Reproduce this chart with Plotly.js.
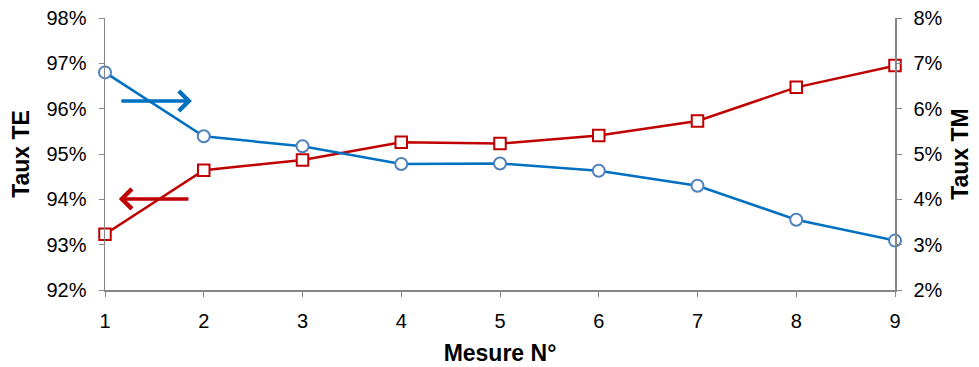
<!DOCTYPE html>
<html>
<head>
<meta charset="utf-8">
<script src="https://cdn.plot.ly/plotly-3.0.1.min.js"></script>
<style>html,body{margin:0;padding:0;background:#fff;}#chart{width:979px;height:367px;}</style>
</head>
<body>
<div id="chart"></div>
<script>
const mesures = [1, 2, 3, 4, 5, 6, 7, 8, 9];
const tauxTE = [0.9323, 0.9464, 0.9487, 0.9526, 0.9523, 0.9541, 0.9573, 0.9647, 0.9695];
const tauxTM = [0.0680, 0.0539, 0.0517, 0.0478, 0.0479, 0.0463, 0.0430, 0.0355, 0.0309];
const leftTicks = [0.92, 0.93, 0.94, 0.95, 0.96, 0.97, 0.98];
const rightTicks = [0.02, 0.03, 0.04, 0.05, 0.06, 0.07, 0.08];

const font = "Liberation Sans, Arial, sans-serif";
const axisColor = "#868686";
const tickSize = 20;

const traceTM = {
  x: mesures, y: tauxTM, yaxis: "y2", type: "scatter", mode: "lines+markers",
  line: {color: "#0070C0", width: 2.5},
  marker: {symbol: "circle", size: 12, color: "#ffffff", line: {color: "#4F81BD", width: 2}},
  cliponaxis: false, name: "Taux TM"
};
const traceTE = {
  x: mesures, y: tauxTE, yaxis: "y", type: "scatter", mode: "lines+markers",
  line: {color: "#C00000", width: 2.5},
  marker: {symbol: "square", size: 11.5, color: "#ffffff", line: {color: "#C00000", width: 2}},
  cliponaxis: false, name: "Taux TE"
};

const layout = {
  width: 979, height: 367,
  margin: {l: 105, r: 84, t: 18, b: 77},
  paper_bgcolor: "#ffffff", plot_bgcolor: "#ffffff",
  showlegend: false,
  font: {family: font, size: tickSize, color: "#000"},
  xaxis: {
    range: [1, 9], tickvals: mesures, ticktext: mesures.map(String),
    showgrid: false, zeroline: false, showline: true, linecolor: axisColor, linewidth: 1.5,
    ticks: "outside", ticklen: 5, tickcolor: axisColor, tickwidth: 1, ticklabelstandoff: 7,
    tickfont: {family: font, size: tickSize, color: "#000"},
    title: {text: "<b>Mesure N°</b>", font: {family: font, size: 23, color: "#000"}, standoff: 14}
  },
  yaxis: {
    range: [0.92, 0.98], tickvals: leftTicks, tickformat: ".0%",
    showgrid: false, zeroline: false, showline: true, linecolor: axisColor, linewidth: 1.5,
    ticks: "outside", ticklen: 5, tickcolor: axisColor, tickwidth: 1, ticklabelstandoff: 8,
    tickfont: {family: font, size: tickSize, color: "#000"},
    title: {text: "<b>Taux TE</b>", font: {family: font, size: 23, color: "#000"}, standoff: 10}
  },
  yaxis2: {
    range: [0.02, 0.08], tickvals: rightTicks, tickformat: ".0%",
    overlaying: "y", side: "right",
    showgrid: false, zeroline: false, showline: true, linecolor: axisColor, linewidth: 1.5,
    ticks: "outside", ticklen: 5, tickcolor: axisColor, tickwidth: 1, ticklabelstandoff: 8,
    tickfont: {family: font, size: tickSize, color: "#000"},
    title: {text: "<b>Taux TM</b>", font: {family: font, size: 23, color: "#000"}, standoff: 10}
  },
  annotations: [
    {x: 1.88, y: 0.0617, xref: "x", yref: "y2", ax: 1.15, ay: 0.0617, axref: "x", ayref: "y2",
     showarrow: true, arrowhead: 4, arrowsize: 1.1, arrowwidth: 3.5, arrowcolor: "#0070C0", text: ""},
    {x: 1.14, y: 0.9401, xref: "x", yref: "y", ax: 1.86, ay: 0.9401, axref: "x", ayref: "y",
     showarrow: true, arrowhead: 4, arrowsize: 1.1, arrowwidth: 3.5, arrowcolor: "#C00000", text: ""}
  ]
};

Plotly.newPlot("chart", [traceTM, traceTE], layout, {displayModeBar: false, staticPlot: true});
</script>
</body>
</html>
